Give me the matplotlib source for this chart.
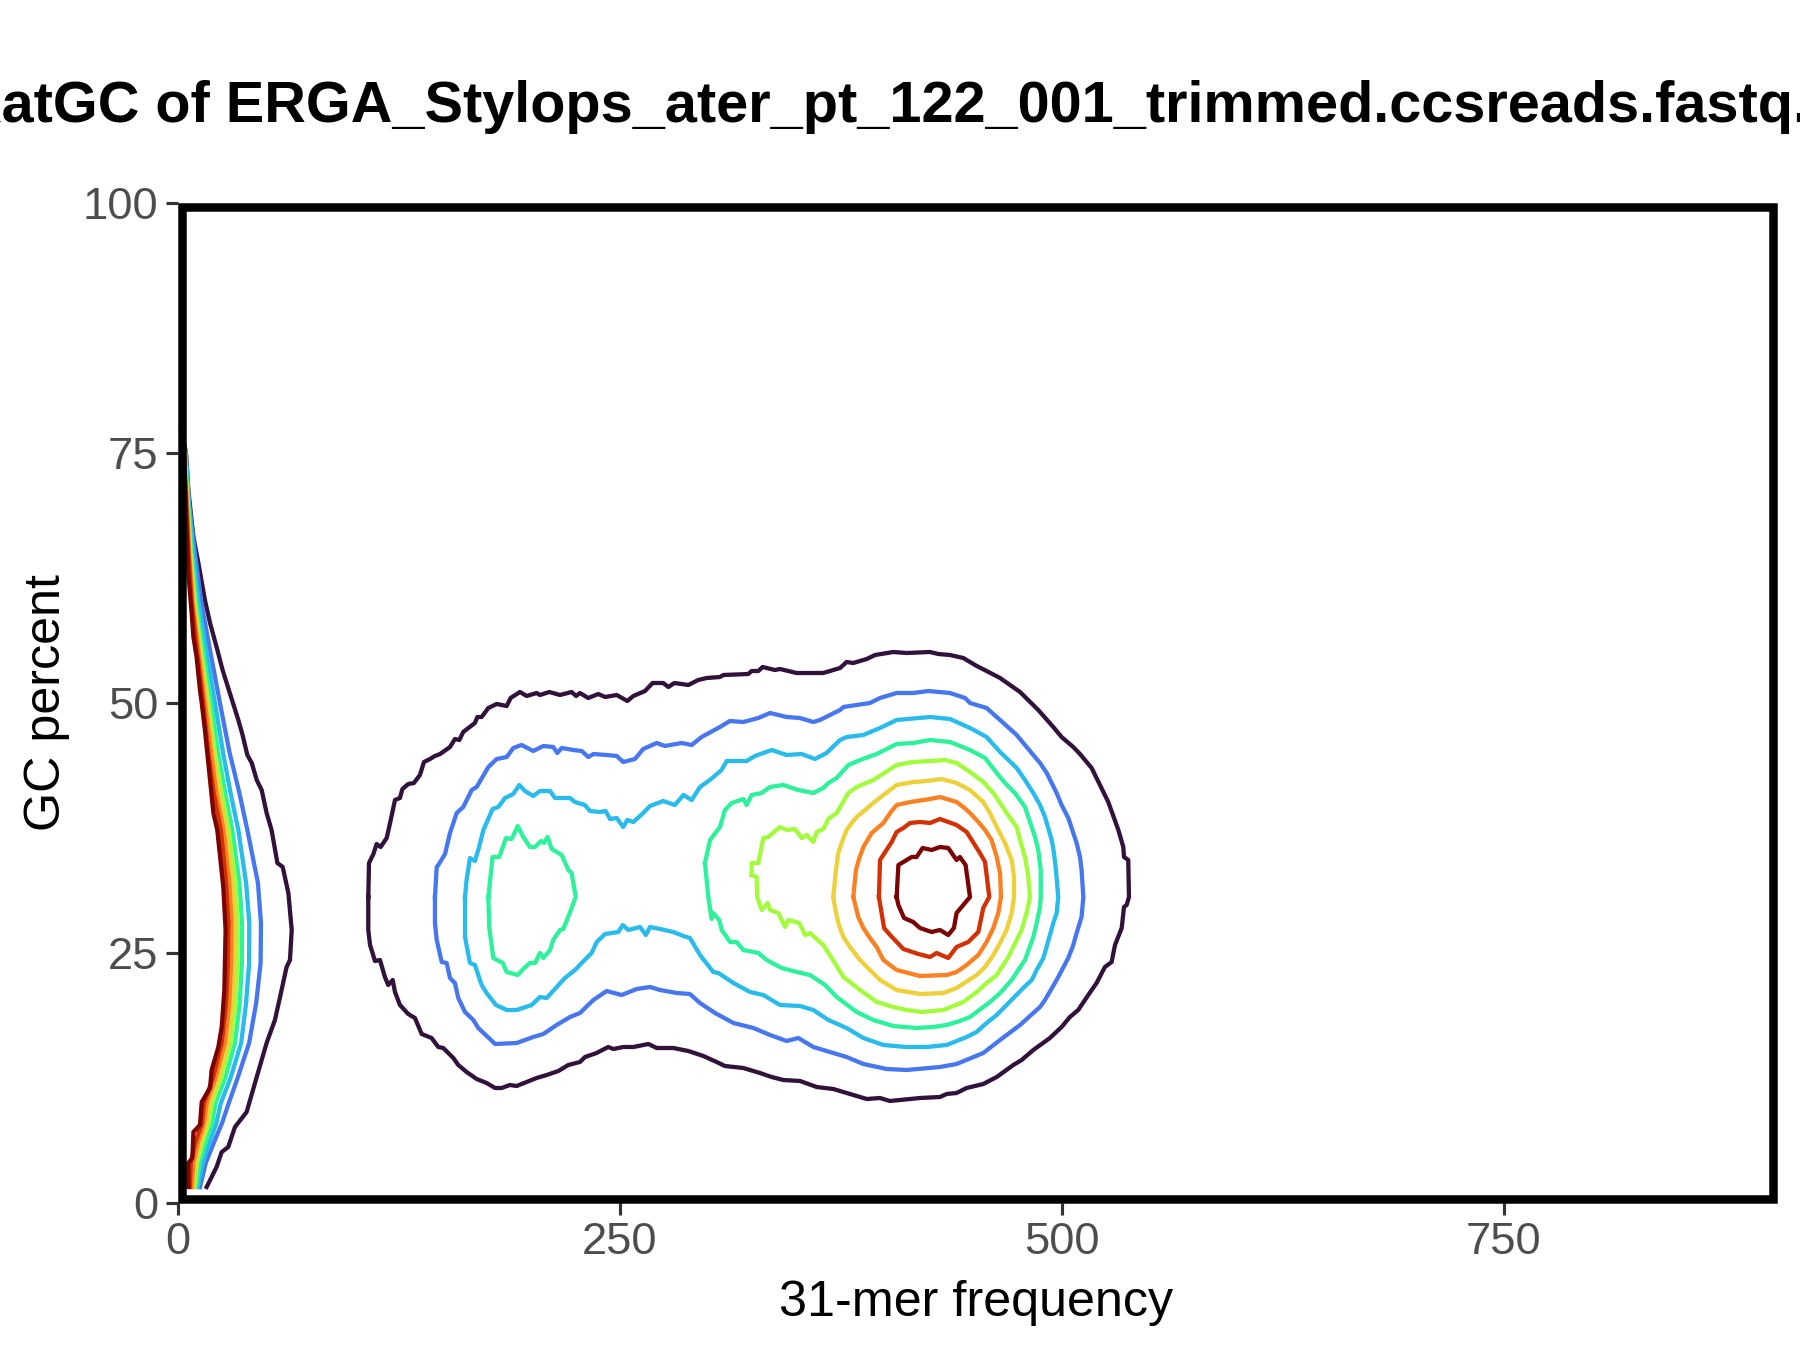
import matplotlib
matplotlib.use("Agg")
import matplotlib.pyplot as plt
from matplotlib.patches import Rectangle

plt.rcParams['font.family'] = ['Liberation Sans', 'DejaVu Sans']

title = "KatGC of ERGA_Stylops_ater_pt_122_001_trimmed.ccsreads.fastq.gz"
x_label = "31-mer frequency"
y_label = "GC percent"
x_ticks = [0, 250, 500, 750]
y_ticks = [0, 25, 50, 75, 100]
x_max = 904.6
y_max = 100

# one colour per contour level, low to high
level_colors = ["#30123B", "#4777EF", "#28BBEC", "#2EF19C", "#A2FC3C",
                "#EDD03A", "#FB8022", "#D23105", "#7A0403"]

# (frequency, GC)
level1_main = [(107.9, 30.6), (108.3, 34.0), (110.8, 34.9), (112.6, 35.9), (114.9, 35.6), (118.3, 36.5),
               (120.6, 38.3), (123.0, 40.3), (125.8, 40.5), (127.2, 41.4), (130.5, 41.9), (133.7, 42.0),
               (137.1, 42.8), (139.4, 44.1), (142.8, 44.4), (145.6, 44.7), (148.5, 44.9), (154.1, 45.6),
               (156.9, 46.4), (159.4, 46.3), (161.6, 47.1), (168.2, 48.0), (169.6, 48.6), (172.0, 48.6),
               (175.8, 49.5), (180.5, 49.9), (186.2, 49.7), (188.4, 50.5), (193.7, 51.1), (197.5, 50.7),
               (203.1, 51.0), (205.0, 50.8), (210.3, 51.1), (216.3, 50.8), (222.9, 51.1), (225.4, 50.7),
               (227.6, 51.0), (232.3, 50.5), (238.0, 50.9), (241.8, 50.6), (248.4, 50.8), (254.4, 50.2),
               (257.8, 50.7), (264.4, 51.2), (268.7, 52.0), (274.7, 52.0), (277.6, 51.6), (281.0, 52.0),
               (288.9, 51.8), (294.5, 52.3), (299.3, 52.5), (306.8, 52.6), (308.7, 52.8), (322.8, 52.9),
               (324.7, 53.2), (328.5, 53.2), (330.9, 53.6), (337.9, 53.3), (340.7, 53.4), (350.1, 53.0),
               (365.2, 53.0), (374.7, 53.5), (378.4, 54.1), (382.2, 54.0), (389.8, 54.4), (394.5, 54.8),
               (404.8, 55.1), (412.4, 55.0), (425.6, 55.1), (430.3, 54.9), (436.9, 54.8), (444.4, 54.5),
               (452.0, 53.7), (457.6, 53.2), (465.2, 52.5), (476.5, 51.1), (486.8, 49.3), (495.3, 47.6),
               (500.0, 46.6), (506.6, 45.6), (510.4, 44.9), (517.0, 43.5), (521.7, 41.8), (526.4, 40.1),
               (532.1, 37.3), (534.9, 35.6), (535.3, 34.6), (537.7, 34.3), (538.1, 30.6), (536.8, 29.8),
               (535.3, 29.6), (534.0, 27.5), (530.2, 25.8), (528.3, 24.1), (524.5, 23.6), (519.8, 22.0),
               (515.1, 20.8), (509.4, 19.3), (504.7, 18.6), (500.0, 17.6), (493.4, 16.5), (484.0, 15.3),
               (477.4, 14.3), (472.7, 13.8), (463.3, 12.6), (455.7, 11.9), (446.3, 11.5), (440.6, 11.0),
               (435.0, 10.9), (431.2, 10.6), (419.9, 10.5), (402.9, 10.2), (397.3, 10.5), (389.8, 10.4),
               (378.4, 11.0), (370.9, 11.4), (361.5, 11.6), (352.1, 12.2), (342.6, 12.3), (336.0, 12.6),
               (329.4, 13.0), (320.0, 13.5), (309.6, 13.7), (304.9, 14.1), (297.4, 14.7), (288.9, 15.2),
               (280.4, 15.5), (271.0, 15.5), (266.3, 15.9), (257.8, 15.6), (252.1, 15.6), (246.5, 15.4),
               (243.6, 15.6), (237.0, 15.0), (230.5, 14.6), (227.6, 14.1), (221.0, 13.8), (215.4, 13.2),
               (208.8, 12.8), (203.1, 12.5), (191.8, 11.7), (188.0, 11.8), (183.3, 11.5), (179.6, 11.5),
               (174.8, 12.0), (169.2, 12.4), (163.5, 13.1), (158.8, 13.8), (156.0, 14.5), (150.3, 15.5),
               (147.5, 15.6), (143.7, 16.5), (138.1, 16.9), (134.3, 18.5), (130.5, 18.9), (125.8, 19.8),
               (123.0, 21.1), (121.7, 22.3), (119.2, 21.8), (117.3, 22.6), (114.5, 24.3), (111.7, 24.2),
               (108.9, 25.8), (107.9, 27.3), (107.9, 30.6)]

level2_main = [(145.6, 30.6), (146.6, 33.6), (147.5, 33.8), (151.3, 34.9), (154.1, 37.0), (157.9, 39.0),
               (161.6, 39.6), (166.4, 41.3), (169.2, 41.6), (175.8, 43.6), (180.5, 44.4), (186.2, 44.6),
               (189.9, 45.5), (194.6, 45.8), (201.2, 45.2), (206.9, 45.7), (212.5, 45.6), (214.8, 45.0),
               (217.3, 45.5), (223.9, 45.3), (228.6, 45.2), (232.3, 44.6), (235.2, 44.9), (242.7, 44.8),
               (248.4, 44.7), (252.1, 44.1), (258.7, 44.4), (263.4, 45.4), (271.0, 46.0), (275.7, 45.7),
               (285.1, 46.0), (290.8, 45.8), (296.4, 46.6), (306.8, 47.6), (312.4, 48.2), (320.0, 48.1),
               (328.5, 48.5), (335.1, 49.0), (344.5, 48.6), (352.0, 48.5), (359.6, 48.1), (363.3, 48.3),
               (374.7, 49.3), (376.6, 49.6), (384.1, 49.8), (391.6, 50.0), (397.3, 50.5), (406.7, 51.0),
               (416.1, 51.0), (424.6, 51.2), (436.9, 51.0), (445.4, 50.5), (448.2, 50.0), (457.6, 49.5),
               (465.2, 48.3), (474.6, 46.8), (484.0, 44.8), (487.8, 44.0), (491.6, 43.0), (497.2, 41.0),
               (500.0, 39.8), (503.8, 38.5), (508.5, 36.0), (510.4, 34.6), (511.3, 33.3), (512.3, 30.6),
               (511.3, 28.6), (508.5, 27.0), (506.6, 25.8), (503.8, 24.5), (497.2, 22.3), (490.6, 20.3),
               (487.8, 19.6), (484.0, 19.0), (476.5, 17.8), (465.2, 16.3), (455.7, 15.0), (440.6, 13.9),
               (431.2, 13.6), (412.4, 13.3), (401.1, 13.4), (387.9, 13.9), (378.4, 14.6), (369.0, 15.1),
               (359.6, 15.6), (351.1, 16.5), (344.5, 16.2), (335.1, 16.8), (325.7, 17.5), (314.4, 18.0),
               (304.0, 19.0), (295.5, 20.0), (289.8, 20.9), (282.3, 21.0), (272.9, 21.3), (267.2, 21.6),
               (259.7, 21.4), (251.2, 20.8), (242.7, 21.2), (235.2, 20.3), (227.6, 19.0), (222.0, 18.6),
               (214.4, 17.8), (206.9, 16.9), (201.2, 16.6), (191.8, 16.0), (179.6, 15.9), (176.7, 16.4),
               (170.1, 17.5), (167.3, 18.3), (162.6, 19.1), (158.8, 20.5), (156.9, 22.0), (154.1, 22.5),
               (152.2, 24.0), (149.4, 24.1), (146.6, 26.3), (145.6, 28.0), (145.6, 30.6)]

level3_main = [(162.6, 30.6), (163.5, 32.3), (165.4, 34.5), (168.2, 34.2), (170.1, 35.3), (173.0, 37.3),
               (178.2, 39.4), (181.4, 39.6), (185.2, 40.5), (189.9, 40.9), (193.3, 41.8), (196.5, 41.2),
               (201.2, 40.7), (205.0, 41.2), (210.7, 41.2), (213.5, 40.5), (222.0, 40.5), (224.8, 40.1),
               (230.4, 39.8), (233.3, 39.2), (238.9, 39.1), (242.1, 39.2), (244.6, 38.4), (248.4, 38.5),
               (252.1, 37.6), (254.4, 38.3), (257.8, 38.1), (263.4, 39.0), (267.2, 39.7), (274.7, 40.2),
               (281.3, 39.8), (286.1, 40.8), (290.8, 40.3), (295.5, 41.6), (301.1, 42.3), (307.7, 43.3),
               (310.6, 44.2), (321.9, 44.2), (326.6, 44.7), (336.0, 45.3), (344.5, 44.8), (353.0, 44.9),
               (360.5, 44.4), (367.1, 45.0), (374.7, 46.3), (378.4, 46.6), (387.9, 46.8), (397.3, 47.5),
               (406.7, 48.3), (425.6, 48.6), (436.9, 48.4), (448.2, 47.5), (457.6, 46.6), (465.2, 45.1),
               (474.6, 43.5), (479.3, 42.3), (484.0, 41.0), (487.8, 39.8), (490.6, 38.6), (494.4, 36.3),
               (495.7, 35.0), (496.8, 33.3), (498.1, 30.6), (497.2, 29.0), (495.3, 28.0), (491.5, 25.6),
               (489.7, 24.5), (485.9, 23.3), (483.1, 22.3), (478.3, 21.5), (468.9, 19.8), (463.3, 18.8),
               (457.6, 18.0), (451.9, 17.1), (446.3, 16.6), (435.0, 15.8), (423.7, 15.6), (412.4, 15.6),
               (399.2, 15.8), (387.9, 16.5), (378.4, 17.5), (368.1, 18.3), (359.6, 19.3), (352.1, 19.7),
               (340.7, 19.8), (331.3, 20.8), (323.8, 21.1), (314.4, 22.0), (305.9, 23.0), (303.0, 23.1),
               (295.5, 24.8), (289.8, 26.5), (286.1, 26.7), (280.4, 27.1), (272.9, 27.4), (267.2, 27.6),
               (264.9, 26.8), (261.6, 27.6), (255.0, 27.3), (251.8, 27.8), (249.3, 27.1), (241.8, 26.9),
               (237.1, 26.1), (234.2, 25.0), (228.6, 24.0), (224.8, 23.3), (219.1, 22.5), (208.8, 20.5),
               (205.0, 20.6), (200.3, 19.8), (191.8, 19.3), (186.2, 19.3), (180.1, 19.8), (174.8, 21.0),
               (172.0, 21.8), (168.2, 23.8), (165.4, 24.0), (162.6, 26.6), (162.6, 30.6)]

level4_lobe = [(175.8, 30.6), (178.2, 34.6), (182.0, 34.6), (185.8, 36.5), (189.0, 36.4), (192.4, 37.7),
               (195.6, 36.6), (199.3, 35.6), (202.2, 35.6), (205.6, 36.2), (207.3, 36.0), (209.3, 36.6),
               (211.6, 35.4), (217.3, 34.8), (221.0, 33.3), (222.9, 33.0), (225.2, 30.6), (221.0, 28.6),
               (218.2, 27.4), (216.3, 27.3), (212.5, 26.3), (210.7, 25.3), (206.9, 24.5), (205.0, 25.0),
               (202.2, 24.0), (199.3, 24.0), (196.1, 23.5), (192.4, 22.8), (186.2, 23.1), (183.9, 24.0),
               (178.6, 24.5), (176.3, 27.6), (175.8, 30.6)]

level4_main = [(298.3, 34.0), (301.2, 36.3), (306.8, 37.6), (309.6, 39.3), (313.4, 40.0), (320.0, 40.4),
               (321.9, 39.8), (324.7, 40.8), (330.4, 41.0), (335.1, 41.6), (342.6, 41.8), (351.1, 41.3),
               (359.6, 41.0), (365.2, 41.5), (368.1, 42.0), (372.8, 42.5), (379.4, 43.8), (386.0, 44.3),
               (395.4, 44.9), (406.7, 45.9), (416.1, 46.0), (425.6, 46.3), (436.9, 46.1), (448.2, 45.3),
               (456.7, 44.5), (463.3, 43.0), (468.0, 42.0), (473.6, 41.0), (479.3, 39.6), (483.1, 37.6),
               (485.0, 36.6), (486.8, 35.3), (488.2, 33.3), (488.2, 30.6), (487.8, 29.6), (485.9, 28.0),
               (484.0, 26.6), (479.3, 24.3), (475.5, 23.3), (471.8, 22.3), (465.2, 21.0), (459.5, 20.1),
               (448.2, 18.6), (442.5, 18.2), (435.0, 17.8), (427.5, 17.6), (418.0, 17.5), (404.8, 17.7),
               (393.5, 18.3), (384.1, 19.1), (372.8, 20.6), (366.2, 21.8), (357.7, 22.8), (350.2, 23.1),
               (341.7, 23.5), (333.2, 24.3), (328.5, 25.0), (320.0, 25.3), (316.2, 26.1), (312.5, 26.1),
               (307.8, 27.3), (306.4, 28.3), (303.0, 29.0), (302.1, 28.4), (300.2, 30.6), (298.3, 34.0)]

level5_main = [(324.7, 32.8), (324.7, 34.0), (328.5, 34.0), (331.3, 36.5), (334.1, 36.6), (340.7, 37.6),
               (344.5, 37.3), (349.2, 37.4), (353.0, 36.5), (355.8, 36.8), (359.6, 36.1), (361.5, 37.1),
               (365.2, 37.4), (368.1, 38.4), (372.8, 39.0), (379.4, 41.0), (384.1, 41.6), (393.5, 42.3),
               (406.7, 43.8), (416.1, 44.1), (425.6, 44.2), (434.0, 44.3), (440.6, 44.0), (448.2, 43.1),
               (455.7, 42.1), (461.4, 41.0), (465.2, 40.0), (468.9, 39.0), (474.6, 37.6), (476.5, 36.3),
               (479.3, 34.6), (481.2, 32.6), (482.1, 30.6), (480.2, 29.0), (477.4, 27.3), (474.6, 26.3),
               (469.9, 24.6), (463.3, 22.8), (457.6, 22.0), (452.0, 21.1), (444.4, 20.1), (433.1, 19.3),
               (420.9, 19.1), (412.4, 19.3), (404.8, 19.6), (401.1, 19.8), (395.4, 20.1), (386.0, 21.3),
               (376.6, 22.6), (370.0, 24.5), (365.2, 25.8), (357.7, 27.0), (354.9, 26.8), (351.7, 28.0),
               (345.5, 28.3), (343.6, 27.6), (339.8, 29.0), (335.1, 29.3), (333.8, 30.0), (330.4, 29.3),
               (327.9, 30.6), (327.5, 32.6), (324.7, 32.8)]

level6_main = [(370.9, 30.6), (372.4, 33.3), (373.7, 35.0), (375.6, 36.0), (378.4, 37.3), (381.3, 38.0),
               (384.1, 38.6), (388.8, 39.3), (393.5, 40.0), (399.2, 40.8), (406.7, 41.8), (416.1, 42.1),
               (423.7, 42.2), (432.2, 42.4), (440.6, 42.0), (448.2, 41.3), (455.7, 40.1), (459.5, 39.0),
               (463.3, 37.6), (468.0, 36.0), (471.8, 34.3), (473.1, 32.6), (473.1, 30.6), (471.8, 29.0),
               (468.9, 27.3), (465.2, 26.0), (461.4, 24.8), (456.7, 23.6), (452.0, 22.8), (440.6, 21.5),
               (433.1, 21.0), (419.9, 20.9), (406.7, 21.3), (397.3, 22.3), (391.6, 23.3), (386.0, 24.3),
               (380.3, 25.6), (376.6, 26.6), (373.7, 28.0), (371.8, 29.6), (370.9, 30.6)]

level7_main = [(382.2, 30.6), (383.7, 33.3), (385.6, 34.5), (387.9, 35.6), (392.6, 37.0), (399.2, 38.0),
               (403.0, 39.0), (406.7, 39.8), (414.3, 40.1), (425.6, 40.4), (431.2, 40.6), (440.6, 40.1),
               (444.4, 39.6), (448.2, 39.0), (452.9, 38.1), (456.7, 37.3), (460.4, 36.3), (463.3, 34.6),
               (465.2, 33.0), (465.7, 30.6), (464.2, 29.0), (461.4, 27.5), (457.6, 26.1), (452.9, 24.8),
               (446.3, 23.8), (440.6, 23.1), (435.0, 22.8), (419.9, 22.7), (413.3, 23.0), (406.7, 23.3),
               (399.2, 24.3), (395.4, 25.6), (391.6, 26.5), (387.9, 27.5), (385.0, 28.6), (382.2, 30.6)]

level8_main = [(396.7, 30.6), (397.3, 34.3), (403.9, 36.1), (406.7, 37.1), (410.5, 37.5), (414.3, 38.0),
               (419.9, 38.1), (425.6, 38.0), (431.2, 38.4), (440.6, 37.8), (446.3, 37.1), (453.8, 35.0),
               (456.7, 34.1), (459.1, 30.6), (455.7, 29.5), (452.9, 27.1), (447.2, 26.1), (440.6, 25.6),
               (435.9, 24.5), (429.3, 25.0), (425.6, 24.6), (419.0, 24.9), (410.5, 25.4), (403.0, 26.8),
               (399.6, 27.5), (398.2, 29.0), (396.7, 30.6)]

level9_main = [(406.7, 30.6), (407.7, 33.8), (415.2, 34.6), (418.0, 34.6), (421.4, 35.5), (426.5, 35.3),
               (431.2, 35.6), (435.9, 35.5), (440.6, 34.3), (442.5, 34.6), (445.7, 33.8), (448.2, 30.6),
               (444.4, 29.8), (440.6, 29.0), (439.1, 27.5), (435.9, 26.8), (431.2, 27.3), (426.5, 27.1),
               (419.9, 27.5), (416.1, 28.1), (410.9, 28.5), (407.7, 29.8), (406.7, 30.6)]

# low frequency side, one x list per level on shared GC rows
edge_gc = [1.6, 4, 6, 8, 10, 12.5, 16, 20, 24, 28, 32, 37.3, 41, 45, 50, 55, 60, 65, 70, 75]
level2_edge = [12.7, 16, 20.5, 25.2, 29, 34, 40.5, 44.5, 47, 47.2, 45.5, 39.5, 35, 29.5, 24, 18.7, 13.5, 9.9, 6.5, 4.7]
level3_edge = [11.4, 14.2, 18, 22, 24.5, 30, 36, 38.8, 40.5, 40.6, 38.8, 34.4, 30, 25.8, 21.2, 16.5, 12, 8.9, 6.4, 4.5]
level4_edge = [10.5, 12.5, 15.8, 19.6, 21.5, 27, 32.5, 35.2, 36.4, 36.5, 35, 31, 27, 23, 19, 14.8, 10.7, 8, 6, 4.2]
level5_edge = [9.5, 11, 14, 17.7, 19.5, 24.7, 30, 32.8, 33.9, 34.1, 32.8, 29, 25, 21.2, 17.5, 13.5, 9.8, 7.4, 5.7, 4]
level6_edge = [8.8, 10, 12.8, 16.3, 18, 23, 28.3, 31, 32, 32.3, 31, 27.5, 23.5, 20, 16.5, 12.8, 9.2, 7, 5.5, 3.8]
level7_edge = [8, 9, 11.5, 15, 16.5, 21.5, 26.8, 29.3, 30.3, 30.6, 29.3, 26, 22, 19, 15.5, 12, 8.6, 6.6, 5.3, 3.7]
level8_edge = [7, 7.5, 10, 13.8, 15, 20, 25, 27.5, 28.5, 28.8, 27.5, 24.5, 20.5, 17.5, 14.5, 11.2, 8, 6.2, 5, 3.6]

level1_edge = [(16.5, 1.6), (22.1, 3.6), (25.0, 5.1), (28.7, 5.6), (32.5, 7.6), (39.1, 9.1), (44.8, 12.6),
               (50.4, 16.0), (55.1, 18.3), (58.0, 20.6), (61.7, 23.6), (63.6, 24.3), (64.6, 27.3), (62.7, 31.0),
               (59.5, 33.6), (56.5, 34.0), (53.2, 37.3), (50.4, 39.0), (47.6, 41.3), (44.8, 42.3), (42.0, 44.0),
               (39.5, 44.8), (36.8, 46.8), (34.4, 48.3), (28.7, 51.5), (25.5, 53.3), (22.1, 55.6), (18.4, 58.0),
               (15.5, 60.3), (11.8, 64.0), (9.0, 66.6), (6.1, 71.3), (4.8, 75.0), (2.0, 77.5)]

level9_edge = [(6.1, 1.6), (6.1, 4.0), (8.4, 4.5), (9.0, 7.1), (12.7, 7.8), (13.7, 10.1), (18.4, 11.5), (19.3, 13.3),
               (23.1, 15.6), (25.0, 17.6), (26.5, 21.3), (27.2, 27.3), (25.9, 31.6), (22.5, 37.3), (20.3, 39.0),
               (18.4, 42.3), (15.5, 47.3), (13.7, 50.0), (12.7, 51.3), (10.8, 54.6), (9.0, 56.6), (8.0, 59.0),
               (6.1, 63.0), (5.2, 67.3), (4.5, 71.0), (3.5, 75.0)]

closed_paths = [(0, level1_main), (1, level2_main), (2, level3_main), (3, level4_lobe), (3, level4_main),
                (4, level5_main), (5, level6_main), (6, level7_main), (7, level8_main), (8, level9_main)]
edge_paths = [level2_edge, level3_edge, level4_edge, level5_edge, level6_edge, level7_edge, level8_edge]

W, H = 1800, 1350
fig = plt.figure(figsize=(12, 9), dpi=150)
ax = fig.add_axes([177.5 / W, (H - 1203) / H, (1777 - 177.5) / W, 1000 / H])

# contours, lowest level first so the higher ones lie on top
line_width = 2.05
for level, path in closed_paths:
    ax.plot([p[0] for p in path], [p[1] for p in path], color=level_colors[level], lw=line_width)
ax.plot([p[0] for p in level1_edge], [p[1] for p in level1_edge], color=level_colors[0], lw=line_width)
for i, edge in enumerate(edge_paths):
    ax.plot(edge, edge_gc, color=level_colors[i + 1], lw=line_width)
ax.plot([p[0] for p in level9_edge], [p[1] for p in level9_edge], color=level_colors[8], lw=line_width)

ax.set_xlim(0, x_max)
ax.set_ylim(0, y_max)
ax.set_xticks(x_ticks)
ax.set_yticks(y_ticks)
ax.tick_params(length=5.6, width=1.5, color="#333333", labelcolor="#4D4D4D", labelsize=21.8, pad=3.5)
for s in ax.spines.values():
    s.set_visible(False)

# thick frame sits inside the axes area, the ticks hang off its outer edge
bw = 8.5
ax_w, ax_h = 1777 - 177.5, 1000
ax.add_patch(Rectangle((bw / 2 / ax_w, bw / 2 / ax_h), 1 - bw / ax_w, 1 - bw / ax_h, transform=ax.transAxes,
                       fill=False, ec="black", lw=bw * 72 / 150, joinstyle="miter", clip_on=False, zorder=5))

fig.text(976 / W, 1 - 1316 / H, x_label, ha="center", va="baseline", fontsize=24.1, color="black")
fig.text(46.5 / W, 1 - 703 / H, y_label, ha="center", va="center", rotation=90, fontsize=24.1, color="black")
fig.text(916.5 / W, 1 - 121.7 / H, title, ha="center", va="baseline", fontsize=27.65, fontweight="bold", color="black")

fig.savefig("out.png", dpi=150)
